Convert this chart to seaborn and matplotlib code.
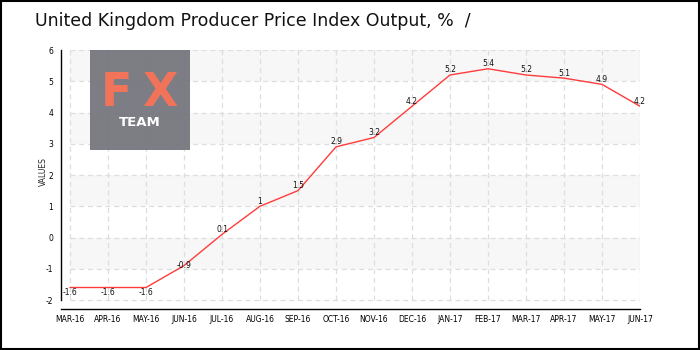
import numpy as np
import pandas as pd
import matplotlib
matplotlib.use("Agg")
import matplotlib.pyplot as plt
from matplotlib.patches import Rectangle
from matplotlib.ticker import MultipleLocator
import seaborn as sns

# Monthly PPI output, year-on-year %
months = ["MAR-16", "APR-16", "MAY-16", "JUN-16", "JUL-16", "AUG-16", "SEP-16",
          "OCT-16", "NOV-16", "DEC-16", "JAN-17", "FEB-17", "MAR-17", "APR-17",
          "MAY-17", "JUN-17"]
values = [-1.6, -1.6, -1.6, -0.9, 0.1, 1, 1.5, 2.9, 3.2, 4.2, 5.2, 5.4, 5.2, 5.1, 4.9, 4.2]
y_ticks = [-2, -1, 0, 1, 2, 3, 4, 5, 6]
title = "United Kingdom Producer Price Index Output, %  /"

df = pd.DataFrame({"pos": np.arange(len(months)), "value": values, "month": months})

sns.set_style("white")
plt.rcParams["font.family"] = ["DejaVu Sans"]

W, H = 700, 350
fig = plt.figure(figsize=(W / 100, H / 100), dpi=100)

# axes placed in pixel terms
ax_l, ax_r, ax_t, ax_b = 61, 640, 50, 309
ax = fig.add_axes([ax_l / W, 1 - ax_b / H, (ax_r - ax_l) / W, (ax_b - ax_t) / H])

n = len(months)
px_per_x = (640 - 70) / (n - 1)
px_per_y = (300 - 50) / 8
ax.set_xlim(-(70 - ax_l) / px_per_x, n - 1)
ax.set_ylim(-2 - (ax_b - 300) / px_per_y, 6)

# alternating background bands
for lo in [5, 3, 1, -1]:
    ax.fill_between([0, n - 1], lo, lo + 1, color="#f7f7f7", lw=0, zorder=0)

# dashed grid
grid_kw = dict(color="#dedede", lw=0.9, linestyles=(0, (4, 3)), zorder=0.5)
ax.hlines(y_ticks, 0, n - 1, **grid_kw)
ax.vlines(df["pos"], -2, 6, **grid_kw)

sns.lineplot(data=df, x="pos", y="value", ax=ax, color="#ff3b3b", lw=1.0,
             sort=False, zorder=3)

# value labels
for x, v in zip(df["pos"], df["value"]):
    if v >= 0:
        dy = 5
    elif v > -1:
        dy = 0
    else:
        dy = -5
    ax.annotate(f"{v:g}", (x, v), xytext=(0, dy), textcoords="offset pixels",
                ha="center", va="center", fontsize=5.5, color="#111111",
                zorder=4, annotation_clip=False)

# spines & ticks
for s in ["top", "right"]:
    ax.spines[s].set_visible(False)
ax.spines["left"].set_bounds(-2, 6)
ax.spines["left"].set_linewidth(1.0)
ax.spines["bottom"].set_linewidth(1.0)
ax.spines["left"].set_color("black")
ax.spines["bottom"].set_color("black")

ax.set_xticks(df["pos"])
ax.set_xticklabels(months)
ax.set_yticks(y_ticks)
ax.set_yticklabels([str(t) for t in y_ticks])
ax.yaxis.set_minor_locator(MultipleLocator(0.5))
ax.tick_params(axis="x", direction="inout", length=6, width=1, pad=1.5,
               labelsize=5.5, colors="black")
ax.tick_params(axis="y", which="major", direction="out", length=4, width=1,
               pad=1.5, labelsize=5.5, colors="black")
ax.tick_params(axis="y", which="minor", direction="out", length=3, width=1,
               color="red")
ax.set_xlabel("")
ax.set_ylabel("")
fig.text(43 / W, 1 - 172 / H, "VALUES", rotation=90, ha="center", va="center",
         fontsize=5.5)

# title
fig.text(35 / W, 1 - 21 / H, title, ha="left", va="center", fontsize=12.5,
         color="#111111")

# logo block
logo = Rectangle((90 / W, 1 - 150 / H), 100 / W, 100 / H, transform=fig.transFigure,
                 facecolor="#76767e", edgecolor="none", alpha=0.95, zorder=5)
fig.patches.append(logo)
fig.text(116 / W, 1 - 94 / H, "F", ha="center", va="center", fontsize=33,
         fontweight="bold", color="#f0735a", zorder=6)
fig.text(159.5 / W, 1 - 94 / H, "X", ha="center", va="center", fontsize=33,
         fontweight="bold", color="#f0735a", zorder=6)
fig.text(140 / W, 1 - 122 / H, "TEAM", ha="center", va="center", fontsize=9.5,
         fontweight="bold", color="white", zorder=6)

# outer frame
frame = Rectangle((1 / W, 1 / H), (W - 2) / W, (H - 2) / H, transform=fig.transFigure,
                  facecolor="none", edgecolor="black", lw=1.5, zorder=10)
fig.patches.append(frame)

fig.savefig("out.png", dpi=100)
